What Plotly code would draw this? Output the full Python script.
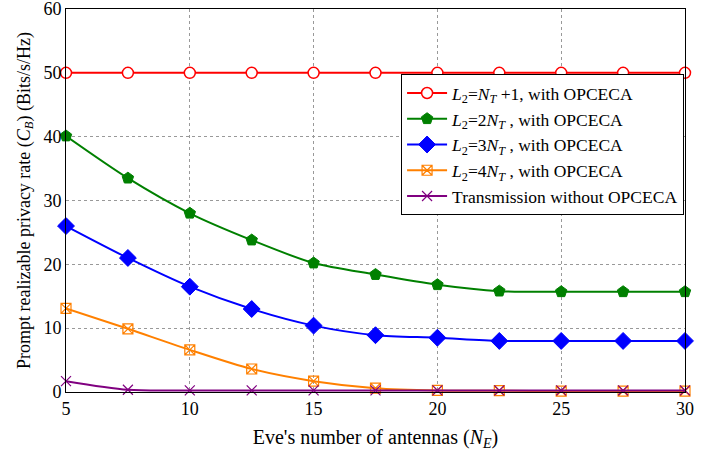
import plotly.graph_objects as go

x_vals = [5, 7.5, 10, 12.5, 15, 17.5, 20, 22.5, 25, 27.5, 30]
red_vals = [50, 50, 50, 50, 50, 50, 50, 50, 50, 50, 50]
green_vals = [40.1, 33.5, 28.0, 23.8, 20.2, 18.4, 16.8, 15.8, 15.7, 15.7, 15.7]
blue_vals = [26.0, 21.0, 16.5, 13.0, 10.4, 8.9, 8.5, 8.0, 8.0, 8.0, 8.0]
orange_vals = [13.1, 9.9, 6.6, 3.6, 1.7, 0.6, 0.25, 0.2, 0.15, 0.15, 0.15]
purple_vals = [1.7, 0.35, 0.25, 0.25, 0.25, 0.25, 0.25, 0.25, 0.25, 0.25, 0.25]

names = [
    "<i>L</i><sub>2</sub>=<i>N</i><sub><i>T</i></sub> +1, with OPCECA",
    "<i>L</i><sub>2</sub>=2<i>N</i><sub><i>T</i></sub> , with OPCECA",
    "<i>L</i><sub>2</sub>=3<i>N</i><sub><i>T</i></sub> , with OPCECA",
    "<i>L</i><sub>2</sub>=4<i>N</i><sub><i>T</i></sub> , with OPCECA",
    "Transmission without OPCECA",
]

fig = go.Figure()
styles = [
    (red_vals, "#ff0000", dict(symbol="circle", size=11, color="white", line=dict(color="#ff0000", width=1.5))),
    (green_vals, "#008000", dict(symbol="pentagon", size=12, color="#008000", line=dict(color="#008000", width=1))),
    (blue_vals, "#0000ff", dict(symbol="diamond", size=13, color="#0000ff", line=dict(color="#0000ff", width=1))),
    (orange_vals, "#ff8000", dict(symbol="square-x-open", size=10, color="#ff8000", line=dict(color="#ff8000", width=1.2))),
    (purple_vals, "#800080", dict(symbol="x-thin-open", size=10, color="#800080", line=dict(color="#800080", width=1.2))),
]
for (vals, col, mk), nm in zip(styles, names):
    fig.add_trace(go.Scatter(
        x=x_vals, y=vals, name=nm, mode="lines+markers",
        line=dict(color=col, width=2, shape="spline", smoothing=0.8),
        marker=mk, cliponaxis=False,
    ))

fig.update_layout(
    width=718, height=451,
    margin=dict(l=66, r=33, t=9, b=59),
    paper_bgcolor="white", plot_bgcolor="white",
    font=dict(family="Liberation Serif", size=18, color="black"),
    showlegend=True,
    legend=dict(
        x=0.9985, y=0.83, xanchor="right", yanchor="top",
        bgcolor="white", bordercolor="black", borderwidth=1,
        font=dict(family="Liberation Serif", size=17.5),
        tracegroupgap=0, itemwidth=40,
    ),
    xaxis=dict(
        range=[5, 30], tickvals=[5, 10, 15, 20, 25, 30],
        showgrid=True, gridcolor="#999999", griddash="dot", gridwidth=1,
        showline=True, linecolor="black", linewidth=1, mirror=True,
        zeroline=False, ticks="", automargin=False, ticklabeloverflow="allow",
        title=dict(text="Eve's number of antennas (<i>N</i><sub><i>E</i></sub>)", font=dict(size=20), standoff=12),
    ),
    yaxis=dict(
        range=[0, 60], tickvals=[0, 10, 20, 30, 40, 50, 60],
        showgrid=True, gridcolor="#999999", griddash="dot", gridwidth=1,
        showline=True, linecolor="black", linewidth=1, mirror=True,
        zeroline=False, ticks="", automargin=False, ticklabeloverflow="allow",
        title=dict(text="Prompt realizable privacy rate (<i>C</i><sub><i>B</i></sub>) (Bits/s/Hz)", font=dict(size=18), standoff=8),
    ),
)

fig.write_html("out.html")
